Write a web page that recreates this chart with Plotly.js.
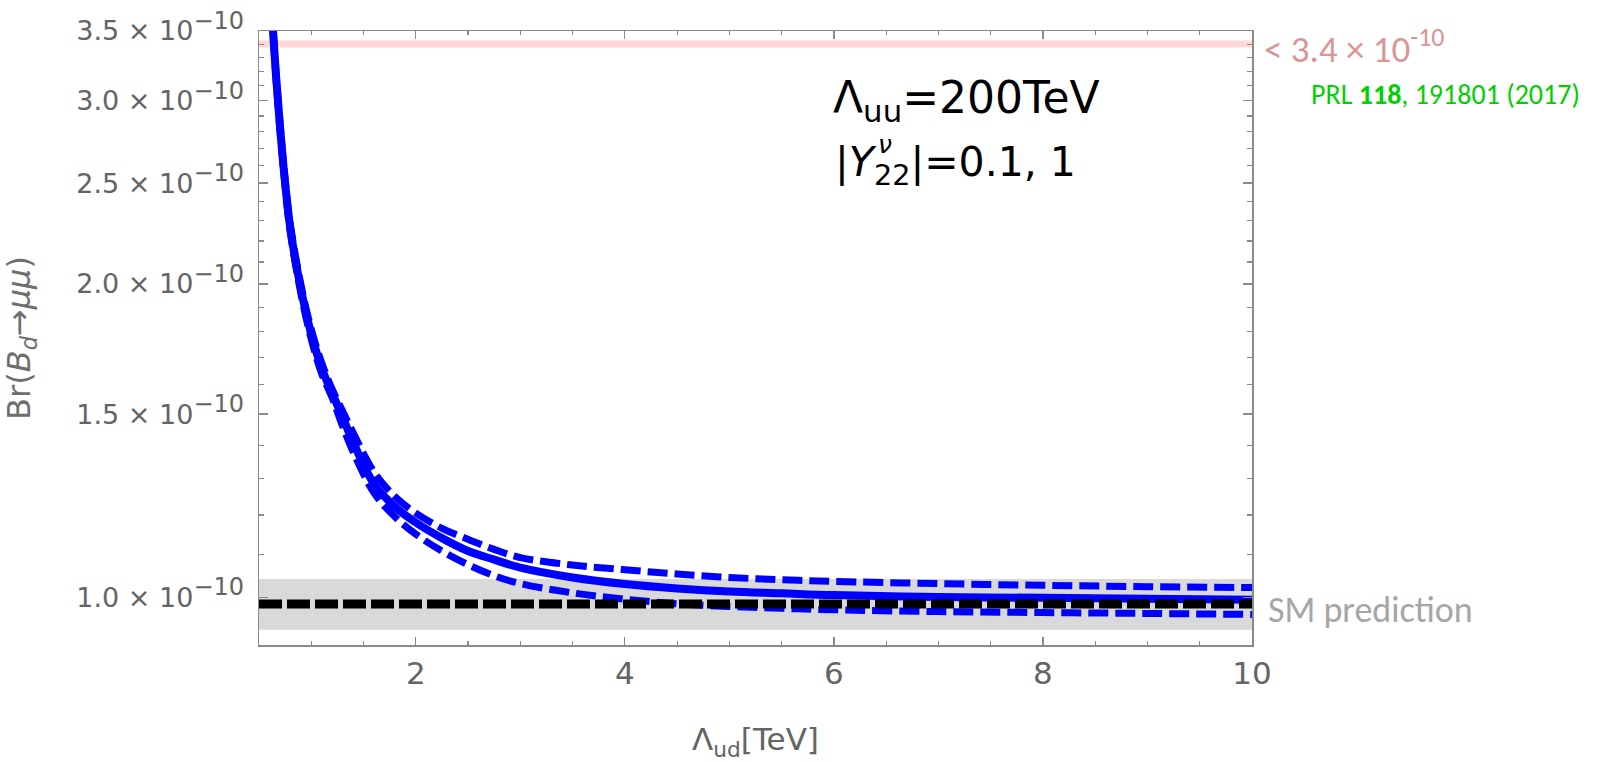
<!DOCTYPE html>
<html>
<head>
<meta charset="utf-8">
<script src="https://cdn.plot.ly/plotly-3.0.1.min.js"></script>
<style>html,body{margin:0;padding:0;background:#fff}#chart{width:1602px;height:762px}</style>
</head>
<body>
<div id="chart"></div>
<script>
// ---- data (Br values in units of 1e-10) ----
const UNIT = 1e-10;
const lambdaUd = [0.6, 0.63, 0.66, 0.7, 0.75, 0.8, 0.9, 1.0, 1.1, 1.2, 1.3, 1.4, 1.6, 1.8, 2.0, 2.25, 2.5, 2.75, 3.0, 3.5, 4.0, 4.5, 5.0, 5.5, 6.0, 7.0, 8.0, 9.0, 10.0];
const brCentral = [3.90, 3.55, 3.20, 2.84, 2.50, 2.26, 1.98, 1.79, 1.66, 1.57, 1.49, 1.41, 1.285, 1.222, 1.18, 1.14, 1.108, 1.087, 1.068, 1.045, 1.030, 1.020, 1.013, 1.009, 1.005, 1.001, 0.999, 0.997, 0.995];
const brUpper   = [3.92, 3.57, 3.22, 2.86, 2.52, 2.28, 2.00, 1.81, 1.68, 1.585, 1.51, 1.44, 1.32, 1.25, 1.205, 1.165, 1.137, 1.112, 1.092, 1.074, 1.063, 1.053, 1.045, 1.040, 1.036, 1.031, 1.027, 1.024, 1.022];
const brLower   = [3.88, 3.53, 3.18, 2.82, 2.48, 2.24, 1.96, 1.77, 1.64, 1.555, 1.46, 1.38, 1.26, 1.195, 1.150, 1.108, 1.075, 1.049, 1.031, 1.010, 0.996, 0.986, 0.980, 0.976, 0.973, 0.969, 0.967, 0.965, 0.963];
const xSpan = [0.5, 10];
const smCentral = 0.9855;
const smLow = 0.931, smHigh = 1.0415;
const expLimit = 3.4;
const yTickVals = [1.0, 1.5, 2.0, 2.5, 3.0, 3.5];
const yTickLabels = ["1.0", "1.5", "2.0", "2.5", "3.0", "3.5"];
const yMinorVals = [0.9, 1.1, 1.2, 1.3, 1.4, 1.6, 1.7, 1.8, 1.9, 2.1, 2.2, 2.3, 2.4, 2.6, 2.7, 2.8, 2.9, 3.1, 3.2, 3.3, 3.4];
const xTickVals = [2, 4, 6, 8, 10];

const sc = a => a.map(v => v * UNIT);
const flat = v => xSpan.map(() => v * UNIT);

const FONT = "DejaVu Sans";
const CAL = "Carlito, Lato, sans-serif";
const GRAY = "#646464";
const FRAME = "#8a8a8a";

const traces = [
  {x: xSpan, y: flat(smLow), mode: "lines", line: {width: 0}, hoverinfo: "skip", showlegend: false},
  {x: xSpan, y: flat(smHigh), mode: "lines", line: {width: 0}, fill: "tonexty", fillcolor: "#d9d9d9", hoverinfo: "skip", showlegend: false},
  {x: xSpan, y: flat(expLimit), mode: "lines", line: {color: "#ffd7d7", width: 7}, showlegend: false},
  {x: lambdaUd, y: sc(brCentral), mode: "lines", line: {color: "#0000ff", width: 8, shape: "spline", smoothing: 1}, showlegend: false},
  {x: lambdaUd, y: sc(brUpper), mode: "lines", line: {color: "#0000ff", width: 7, dash: "20px,7px", shape: "spline", smoothing: 1}, showlegend: false},
  {x: lambdaUd, y: sc(brLower), mode: "lines", line: {color: "#0000ff", width: 7, dash: "20px,7px", shape: "spline", smoothing: 1}, showlegend: false},
  {x: xSpan, y: flat(smCentral), mode: "lines", line: {color: "#000000", width: 9, dash: "23px,5px"}, showlegend: false}
];

const L = 259, R = 1252, T = 31, B = 645;
const px = p => (p - L) / (R - L);
const py = p => (B - p) / (B - T);

const layout = {
  width: 1602, height: 762,
  margin: {l: L, r: 1602 - R, t: T, b: 762 - B},
  paper_bgcolor: "#ffffff", plot_bgcolor: "#ffffff",
  font: {family: FONT, color: GRAY},
  showlegend: false,
  xaxis: {
    range: xSpan, tickmode: "array", tickvals: xTickVals,
    ticks: "inside", ticklen: 8, tickwidth: 1.3, tickcolor: FRAME,
    showline: true, linecolor: FRAME, linewidth: 1.5, mirror: "allticks",
    showgrid: false, zeroline: false,
    tickfont: {family: FONT, size: 31, color: GRAY},
    ticklabelstandoff: 0,
    minor: {dtick: 0.5, tick0: 0, ticks: "inside", ticklen: 4, tickwidth: 1.2, tickcolor: FRAME, showgrid: false},
    title: {text: "Λ<sub>ud</sub>[TeV]", font: {family: FONT, size: 31, color: GRAY}, standoff: 52}
  },
  yaxis: {
    type: "log",
    range: [Math.log10(0.9 * UNIT), Math.log10(3.5 * UNIT)],
    tickmode: "array", tickvals: sc(yTickVals),
    ticktext: yTickLabels.map(s => s + " × 10<sup><span style=\"font-size:24px\">−10</span></sup>"),
    ticks: "inside", ticklen: 9, tickwidth: 1.3, tickcolor: FRAME,
    showline: true, linecolor: FRAME, linewidth: 1.5, mirror: "allticks",
    showgrid: false, zeroline: false,
    tickfont: {family: FONT, size: 27, color: GRAY},
    ticklabelstandoff: 8,
    minor: {tickmode: "array", tickvals: sc(yMinorVals), ticks: "inside", ticklen: 5, tickwidth: 1.2, tickcolor: FRAME, showgrid: false},
    title: {text: "Br(<i>B</i><sub><i>d</i></sub>→<i>μμ</i>)", font: {family: FONT, size: 32, color: "#6e6e6e"}, standoff: 36}
  },
  annotations: [
    {xref: "paper", yref: "paper", x: px(1262), y: py(42), xanchor: "left", yanchor: "middle", yshift: -4, showarrow: false,
     text: "&lt; 3.4 × 10<sup>-10</sup>", font: {family: CAL, size: 37, color: "#d99694"}},
    {xref: "paper", yref: "paper", x: px(1309), y: py(94), xanchor: "left", yanchor: "middle", showarrow: false,
     text: "PRL <b>118</b>, 191801 (2017)", font: {family: CAL, size: 28, color: "#00d000"}},
    {xref: "paper", yref: "paper", x: px(1266), y: py(610), xanchor: "left", yanchor: "middle", showarrow: false,
     text: "SM prediction", font: {family: CAL, size: 36, color: "#a6a6a6"}},
    {xref: "paper", yref: "paper", x: px(831), y: py(70), xanchor: "left", yanchor: "top", showarrow: false,
     text: "Λ<sub>uu</sub>=200TeV", font: {family: FONT, size: 44, color: "#000000"}},
    {xref: "paper", yref: "paper", x: px(833), y: py(136), xanchor: "left", yanchor: "top", showarrow: false,
     text: "|<i>Y</i><sub>22</sub>|=0.1, 1", font: {family: FONT, size: 41, color: "#000000"}},
    {xref: "paper", yref: "paper", x: px(876), y: py(144), xanchor: "left", yanchor: "middle", showarrow: false,
     text: "<i>ν</i>", font: {family: FONT, size: 25, color: "#000000"}}
  ]
};

Plotly.newPlot("chart", traces, layout, {staticPlot: true, displayModeBar: false});
</script>
</body>
</html>
